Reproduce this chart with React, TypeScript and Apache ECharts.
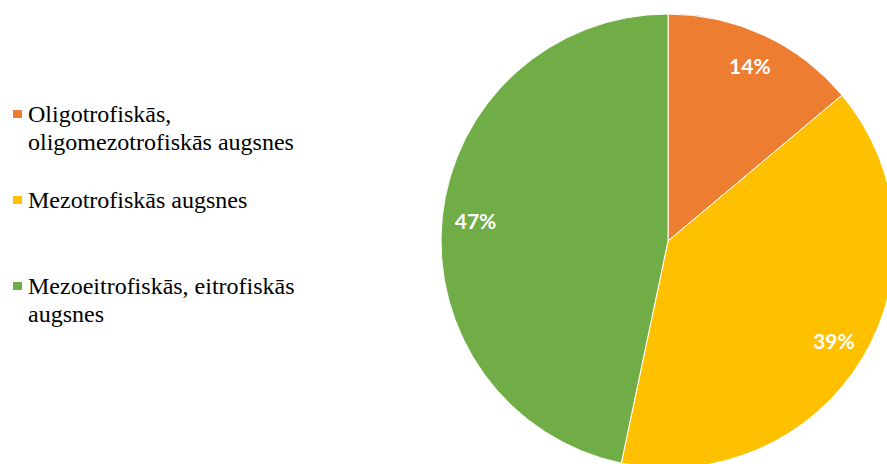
import React, { useEffect, useRef } from "react";
import * as echarts from "echarts";

const categories = [
  "Oligotrofiskās,\noligomezotrofiskās augsnes",
  "Mezotrofiskās augsnes",
  "Mezoeitrofiskās, eitrofiskās\naugsnes",
];
const values = [13.9, 39.4, 46.7];
const colors = ["#ED7D31", "#FFC000", "#70AD47"];

export default function App() {
  const ref = useRef<HTMLDivElement>(null);
  useEffect(() => {
    if (!ref.current) return;
    const chart = echarts.init(ref.current, null, { renderer: "svg" });
    const data = categories.map((name, i) => ({
      name,
      value: values[i],
      itemStyle: { color: colors[i] },
    }));
    chart.setOption({
      animation: false,
      backgroundColor: "#ffffff",
      legend: {
        orient: "vertical",
        left: 11,
        top: 72,
        padding: 0,
        itemWidth: 11,
        itemHeight: 10,
        itemGap: 30,
        icon: "rect",
        selectedMode: false,
        data: categories,
        formatter: (name: string) => (name.includes("\n") ? "\n" + name : name),
        textStyle: {
          fontFamily: "Liberation Serif",
          fontSize: 24,
          lineHeight: 28,
          color: "#000000",
        },
      },
      series: [
        {
          type: "pie",
          center: [668, 241],
          radius: 227,
          startAngle: 90,
          clockwise: true,
          data,
          label: { show: false },
          labelLine: { show: false },
          itemStyle: { borderColor: "#ffffff", borderWidth: 1 },
          emphasis: { disabled: true },
        },
        {
          type: "pie",
          center: [668, 241],
          radius: [154, 227],
          startAngle: 90,
          clockwise: true,
          silent: true,
          data: categories.map((name, i) => ({ name, value: values[i] })),
          itemStyle: { color: "rgba(0,0,0,0)" },
          label: {
            show: true,
            position: "inside",
            formatter: (p: any) => Math.round(p.percent) + "%",
            color: "#ffffff",
            fontFamily: "Lato",
            fontWeight: "bold",
            fontSize: 21,
          },
          labelLine: { show: false },
          emphasis: { disabled: true },
        },
      ],
    });
    return () => chart.dispose();
  }, []);
  return (
    <div
      ref={ref}
      style={{ position: "fixed", left: 0, top: 0, width: 887, height: 464 }}
    />
  );
}
